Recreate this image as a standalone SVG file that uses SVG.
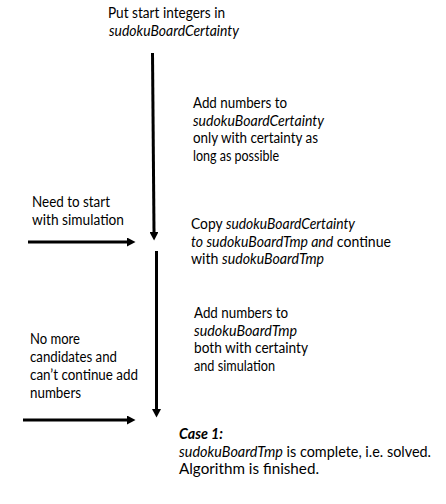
<svg xmlns="http://www.w3.org/2000/svg" width="446" height="504" viewBox="0 0 446 504">
<style>
text{font-family:Lato,"Liberation Sans",sans-serif;font-size:14.6px;fill:#000}
.i{font-style:italic}
.bi{font-style:italic;font-weight:bold}
.c{stroke:#000;stroke-width:3;fill:none}
</style>
<defs>
<marker id="ah" markerUnits="userSpaceOnUse" markerWidth="9" markerHeight="9" refX="0" refY="4.5" orient="auto">
<path d="M0,0 L8.5,4.5 L0,9 z" fill="#000"/>
</marker>
</defs>
<rect width="446" height="504" fill="#fff"/>
<g id="connectors">
<line class="c" x1="152.5" y1="53" x2="154" y2="232" marker-end="url(#ah)"/>
<line class="c" x1="156.5" y1="251" x2="156.5" y2="409" marker-end="url(#ah)"/>
<line class="c" x1="28" y1="242" x2="127" y2="242" marker-end="url(#ah)"/>
<line class="c" x1="23" y1="420" x2="127" y2="420" marker-end="url(#ah)"/>
</g>
<g id="start">
<text x="108" y="18" textLength="117" lengthAdjust="spacingAndGlyphs">Put start integers in</text>
<text x="109" y="36" class="i" textLength="130" lengthAdjust="spacingAndGlyphs">sudokuBoardCertainty</text>
</g>
<g id="certainty">
<text x="193" y="108" textLength="94" lengthAdjust="spacingAndGlyphs">Add numbers to</text>
<text x="193" y="125.7" class="i" textLength="131" lengthAdjust="spacingAndGlyphs">sudokuBoardCertainty</text>
<text x="193" y="143.4" textLength="125" lengthAdjust="spacingAndGlyphs">only with certainty as</text>
<text x="193" y="161.1" textLength="86" lengthAdjust="spacingAndGlyphs">long as possible</text>
</g>
<g id="need-simulation">
<text x="32" y="206.5" textLength="78" lengthAdjust="spacingAndGlyphs">Need to start</text>
<text x="32" y="224.5" textLength="92" lengthAdjust="spacingAndGlyphs">with simulation</text>
</g>
<g id="copy">
<text x="191" y="229" textLength="164" lengthAdjust="spacingAndGlyphs">Copy <tspan class="i">sudokuBoardCertainty</tspan></text>
<text x="191" y="246.7" textLength="200" lengthAdjust="spacingAndGlyphs"><tspan class="i">to sudokuBoardTmp and</tspan> continue</text>
<text x="191" y="264.4" textLength="133" lengthAdjust="spacingAndGlyphs">with <tspan class="i">sudokuBoardTmp</tspan></text>
</g>
<g id="tmp">
<text x="194" y="318" textLength="94" lengthAdjust="spacingAndGlyphs">Add numbers to</text>
<text x="194" y="335.7" class="i" textLength="103" lengthAdjust="spacingAndGlyphs">sudokuBoardTmp</text>
<text x="194" y="353.4" textLength="114" lengthAdjust="spacingAndGlyphs">both with certainty</text>
<text x="194" y="371.1" textLength="81" lengthAdjust="spacingAndGlyphs">and simulation</text>
</g>
<g id="no-more">
<text x="30" y="344" textLength="50" lengthAdjust="spacingAndGlyphs">No more</text>
<text x="30" y="362" textLength="87" lengthAdjust="spacingAndGlyphs">candidates and</text>
<text x="30" y="380" textLength="108" lengthAdjust="spacingAndGlyphs">can’t continue add</text>
<text x="30" y="397.7" textLength="51" lengthAdjust="spacingAndGlyphs">numbers</text>
</g>
<g id="case1">
<text x="179" y="439" class="bi" textLength="44" lengthAdjust="spacingAndGlyphs">Case 1:</text>
<text x="179" y="456.7" textLength="252" lengthAdjust="spacingAndGlyphs"><tspan class="i">sudokuBoardTmp</tspan> is complete, i.e. solved.</text>
<text x="179" y="474.4" textLength="140" lengthAdjust="spacingAndGlyphs">Algorithm is finished.</text>
</g>
</svg>
